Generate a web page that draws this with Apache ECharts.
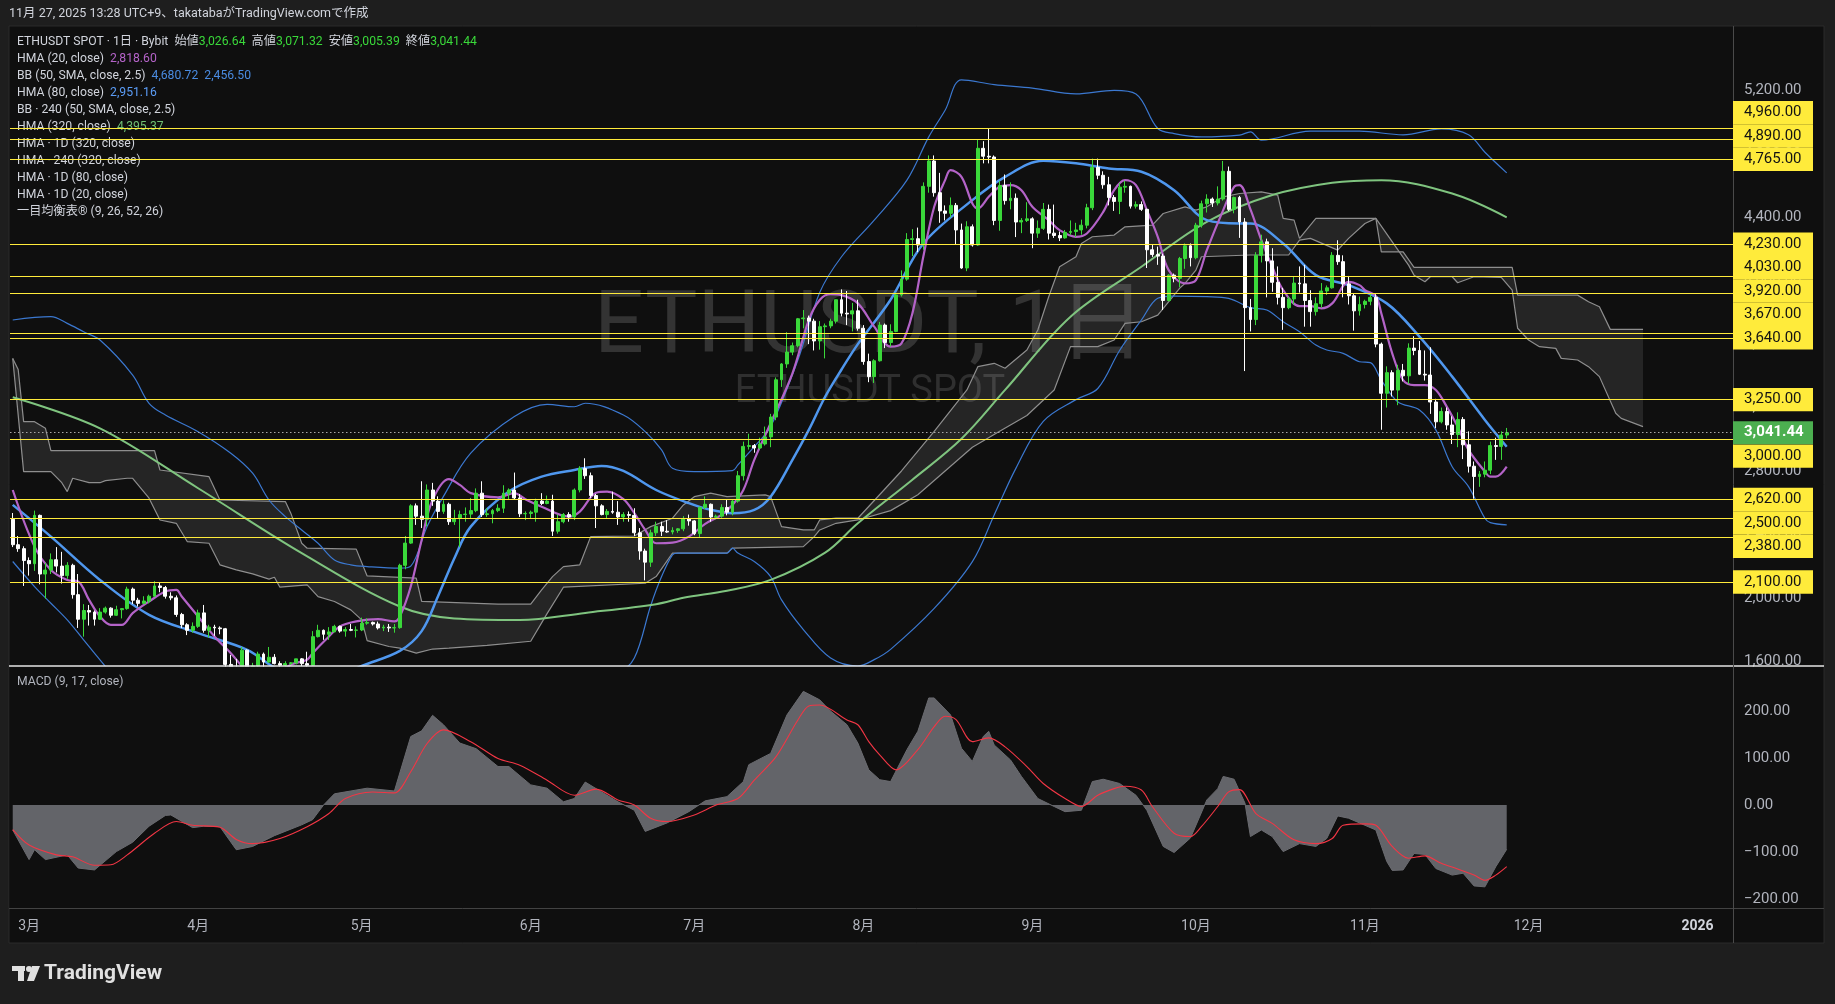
<!DOCTYPE html>
<html><head><meta charset="utf-8">
<script src="https://cdn.jsdelivr.net/npm/echarts@6/dist/echarts.min.js"></script>
<style>html,body{margin:0;padding:0;background:#1e1e1e;overflow:hidden}#c{width:1835px;height:1004px}</style>
</head><body><div id="c"></div>
<script>
// ---------- DATA ----------
// daily candles [open, high, low, close], Feb 26 2025 .. Nov 27 2025
const candlesFeb = [[2495,2535,2320,2335],[2335,2390,2290,2310],[2310,2325,2075,2235]];
const candlesMar = [[2235,2255,2140,2215],[2215,2550,2170,2520],[2520,2525,2085,2150],[2150,2220,1995,2175],[2175,2280,2150,2240],[2240,2320,2160,2200],[2200,2290,2090,2140],[2140,2225,2120,2205],[2205,2215,1995,2020],[2020,2150,1810,1865],[1865,1960,1755,1920],[1920,1955,1825,1910],[1910,1920,1825,1865],[1865,1935,1860,1910],[1910,1945,1900,1935],[1935,1940,1875,1890],[1890,1950,1885,1925],[1925,1935,1870,1932],[1932,2070,1925,2055],[2055,2065,1960,1985],[1985,2000,1945,1965],[1965,2010,1960,1980],[1980,2020,1965,2010],[2010,2105,2005,2075],[2075,2095,2035,2065],[2065,2075,1995,2010],[2010,2035,1985,2000],[2000,2015,1880,1895],[1895,1905,1810,1830],[1830,1840,1765,1795],[1795,1845,1780,1820]];
const candlesApr = [[1820,1925,1810,1905],[1905,1955,1780,1795],[1795,1830,1750,1815],[1815,1830,1760,1810],[1810,1820,1770,1805],[1805,1810,1545,1580],[1580,1640,1410,1555],[1555,1615,1440,1470],[1470,1690,1385,1670],[1670,1675,1470,1520],[1520,1590,1505,1570],[1570,1660,1550,1645],[1645,1655,1560,1595],[1595,1690,1590,1625],[1625,1645,1580,1585],[1585,1600,1555,1575],[1575,1600,1565,1585],[1585,1595,1575,1590],[1590,1615,1580,1615],[1615,1620,1570,1585],[1585,1660,1560,1575],[1575,1790,1570,1755],[1755,1830,1750,1795],[1795,1800,1735,1770],[1770,1815,1735,1785],[1785,1830,1785,1820],[1820,1825,1780,1790],[1790,1815,1755,1800],[1800,1835,1790,1795],[1795,1820,1750,1797]];
const candlesMay = [[1797,1875,1790,1840],[1840,1870,1830,1845],[1845,1850,1825,1835],[1835,1850,1800,1810],[1810,1830,1790,1815],[1815,1835,1785,1810],[1810,1835,1780,1812],[1812,2215,1805,2205],[2205,2390,2180,2345],[2345,2590,2340,2580],[2580,2595,2460,2515],[2515,2735,2440,2495],[2495,2715,2450,2680],[2680,2725,2580,2610],[2610,2640,2500,2545],[2545,2615,2530,2590],[2590,2600,2460,2480],[2480,2555,2460,2500],[2500,2550,2320,2525],[2525,2570,2480,2528],[2528,2630,2500,2550],[2550,2690,2540,2660],[2660,2735,2510,2525],[2525,2565,2510,2530],[2530,2560,2470,2550],[2550,2590,2540,2565],[2565,2710,2535,2660],[2660,2690,2620,2680],[2680,2790,2620,2630],[2630,2655,2510,2530],[2530,2545,2490,2532]];
const candlesJun = [[2532,2550,2500,2540],[2540,2625,2480,2610],[2610,2660,2585,2595],[2595,2645,2590,2610],[2610,2650,2390,2420],[2420,2525,2405,2480],[2480,2535,2470,2525],[2525,2540,2480,2510],[2510,2690,2490,2680],[2680,2830,2665,2815],[2815,2880,2750,2770],[2770,2790,2630,2645],[2645,2655,2440,2580],[2580,2590,2520,2525],[2525,2560,2500,2545],[2545,2670,2530,2540],[2540,2610,2460,2510],[2510,2540,2480,2525],[2525,2545,2480,2520],[2520,2565,2390,2410],[2410,2440,2240,2295],[2295,2310,2110,2225],[2225,2430,2195,2410],[2410,2480,2390,2450],[2450,2480,2390,2420],[2420,2490,2410,2415],[2415,2445,2400,2425],[2425,2440,2410,2435],[2435,2515,2420,2500],[2500,2525,2455,2485]];
const candlesJul = [[2485,2490,2395,2405],[2405,2575,2380,2570],[2570,2640,2560,2590],[2590,2595,2480,2510],[2510,2525,2495,2515],[2515,2590,2505,2570],[2570,2620,2520,2540],[2540,2620,2520,2610],[2610,2800,2600,2770],[2770,2985,2740,2955],[2955,3035,2935,2960],[2960,2970,2915,2945],[2945,3010,2935,2970],[2970,3080,2960,3015],[3015,3160,2950,3140],[3140,3390,3120,3375],[3375,3480,3330,3475],[3475,3675,3450,3550],[3550,3610,3530,3590],[3590,3765,3580,3760],[3760,3815,3700,3765],[3765,3780,3600,3745],[3745,3760,3560,3620],[3620,3745,3565,3710],[3710,3730,3510,3715],[3715,3760,3700,3745],[3745,3880,3730,3880],[3880,3945,3775,3795],[3795,3935,3720,3790],[3790,3860,3680,3810],[3810,3880,3685,3700]];
const candlesAug = [[3700,3720,3470,3490],[3490,3540,3360,3395],[3395,3505,3355,3495],[3495,3740,3490,3720],[3720,3730,3575,3610],[3610,3725,3585,3680],[3680,3925,3675,3910],[3910,4065,3900,4010],[4010,4300,4000,4260],[4260,4325,4155,4265],[4265,4335,4180,4225],[4225,4620,4195,4595],[4595,4790,4555,4755],[4755,4790,4530,4555],[4555,4680,4365,4440],[4440,4475,4380,4425],[4425,4525,4400,4475],[4475,4490,4225,4320],[4320,4360,4075,4080],[4080,4375,4060,4340],[4340,4355,4215,4225],[4225,4890,4220,4835],[4835,4880,4740,4785],[4785,4960,4740,4780],[4780,4790,4350,4380],[4380,4630,4315,4600],[4600,4670,4480,4505],[4505,4620,4450,4520],[4520,4550,4275,4370],[4370,4395,4300,4380],[4380,4495,4370,4390]];
const candlesSep = [[4390,4400,4205,4300],[4300,4380,4270,4330],[4330,4490,4320,4450],[4450,4480,4260,4300],[4300,4480,4270,4285],[4285,4310,4250,4270],[4270,4320,4265,4305],[4305,4380,4290,4310],[4310,4365,4275,4320],[4320,4385,4290,4350],[4350,4485,4330,4460],[4460,4770,4445,4715],[4715,4770,4640,4665],[4665,4690,4580,4605],[4605,4655,4475,4525],[4525,4540,4440,4500],[4500,4615,4420,4590],[4590,4630,4555,4595],[4595,4600,4455,4470],[4470,4500,4455,4480],[4480,4500,4440,4450],[4450,4455,4080,4195],[4195,4225,4150,4165],[4165,4215,4100,4155],[4155,4170,3815,3875],[3875,4040,3870,4035],[4035,4045,3990,4015],[4015,4150,3960,4140],[4140,4235,4075,4220],[4220,4235,4090,4145]];
const candlesOct = [[4145,4365,4135,4350],[4350,4505,4335,4485],[4485,4545,4430,4515],[4515,4525,4465,4490],[4490,4595,4475,4515],[4515,4755,4505,4690],[4690,4720,4440,4450],[4450,4530,4425,4525],[4525,4535,4270,4370],[4370,4395,3430,3830],[3830,3885,3680,3755],[3755,4180,3720,4160],[4160,4290,4115,4245],[4245,4265,3895,4125],[4125,4205,3930,3990],[3990,4090,3850,3895],[3895,3955,3690,3830],[3830,3900,3820,3885],[3885,4025,3850,3985],[3985,4090,3925,3980],[3980,4100,3710,3875],[3875,3940,3710,3805],[3805,3895,3780,3855],[3855,3985,3830,3935],[3935,3970,3910,3955],[3955,4180,3950,4160],[4160,4255,4100,4120],[4120,4160,3895,3980],[3980,4030,3850,3905],[3905,3920,3685,3810],[3810,3900,3780,3850]];
const candlesNov = [[3850,3880,3825,3870],[3870,3920,3845,3895],[3895,3915,3580,3600],[3600,3610,3060,3290],[3290,3460,3200,3420],[3420,3435,3270,3310],[3310,3470,3215,3435],[3435,3475,3365,3400],[3400,3605,3350,3575],[3575,3650,3530,3560],[3560,3620,3405,3410],[3410,3560,3370,3405],[3405,3580,3160,3235],[3235,3255,3070,3110],[3110,3200,3100,3175],[3175,3200,3060,3090],[3090,3145,2970,3030],[3030,3170,2950,3125],[3125,3140,2875,2965],[2965,3050,2790,2830],[2830,2860,2625,2765],[2765,2800,2700,2780],[2780,2860,2760,2805],[2805,2985,2780,2960],[2960,3010,2870,2955],[2955,3050,2870,3026.64],[3026.64,3071.32,3005.39,3041.44]];

// indicator lines as [day, value]; day 0 = Mar 1 2025
const hma20 = [[-3,2680],[1,2323],[4,2176],[7,2113],[9,2103],[11,1987],[13,1882],[15,1829],[17,1829],[19,1903],[22,1977],[25,2040],[27,2050],[28,2008],[31,1882],[34,1756],[37,1651],[40,1540],[44,1480],[48,1578],[51,1610],[52,1651],[55,1756],[57,1819],[60,1851],[64,1866],[67,1851],[68,1882],[70,2071],[72,2365],[74,2617],[77,2748],[79,2712],[81,2660],[86,2634],[89,2660],[91,2622],[94,2575],[99,2512],[101,2544],[104,2663],[106,2670],[109,2622],[111,2534],[113,2428],[115,2344],[118,2348],[121,2386],[124,2466],[127,2523],[129,2586],[131,2680],[133,2870],[136,3101],[140,3416],[143,3752],[145,3878],[147,3915],[149,3909],[152,3857],[155,3710],[158,3584],[160,3605],[162,3794],[164,4151],[166,4466],[168,4634],[169,4697],[171,4655],[173,4487],[174,4456],[176,4529],[178,4592],[180,4603],[182,4571],[184,4466],[187,4382],[189,4319],[192,4277],[194,4298],[197,4434],[199,4571],[201,4634],[203,4603],[205,4445],[207,4277],[209,4067],[212,3983],[214,4004],[216,4193],[219,4445],[221,4592],[222,4603],[224,4450],[226,4256],[228,4088],[230,3941],[233,3840],[235,3840],[237,3826],[239,3857],[242,3993],[244,3972],[245,3941],[247,3903],[248,3794],[250,3542],[252,3373],[254,3342],[256,3342],[258,3311],[260,3206],[262,3080],[264,2933],[267,2796],[268,2764],[269,2764],[271,2827]];
const hma80 = [[-3,2586],[4,2386],[13,2113],[22,1893],[31,1777],[40,1672],[45,1560],[50,1490],[55,1480],[61,1570],[68,1665],[72,1790],[75,2010],[78,2250],[81,2449],[88,2670],[94,2764],[100,2806],[105,2832],[109,2800],[115,2680],[121,2597],[125,2555],[129,2534],[133,2555],[136,2638],[140,2870],[143,3059],[146,3268],[149,3440],[152,3600],[158,3880],[164,4235],[173,4508],[179,4655],[186,4756],[192,4740],[198,4708],[204,4687],[210,4571],[216,4382],[222,4361],[224,4361],[230,4235],[236,4035],[242,3972],[249,3857],[255,3647],[261,3395],[267,3122],[271,2953]];
const bbUpper = [[-3,3752],[4,3773],[7,3731],[10,3678],[13,3626],[19,3405],[22,3227],[25,3153],[31,3048],[37,2912],[41,2786],[44,2617],[47,2512],[50,2428],[53,2344],[56,2239],[59,2208],[62,2197],[68,2187],[70,2200],[73,2450],[76,2640],[81,2912],[89,3143],[95,3220],[100,3205],[102,3227],[109,3153],[113,3048],[116,2933],[118,2817],[122,2796],[129,2802],[130,2838],[133,2953],[136,3080],[141,3500],[145,3925],[149,4151],[155,4382],[161,4634],[165,4907],[168,5075],[171,5267],[177,5237],[184,5215],[192,5178],[199,5200],[203,5178],[207,4960],[210,4928],[215,4907],[222,4918],[224,4939],[226,4886],[235,4943],[244,4943],[252,4920],[259,4957],[264,4920],[267,4810],[271,4680]];
const bbLower = [[-3,2229],[1,2071],[4,1966],[7,1861],[10,1735],[13,1609],[16,1500],[25,1350],[40,1250],[55,1300],[70,1350],[85,1420],[100,1480],[108,1530],[111,1620],[114,1950],[116,2134],[118,2271],[119,2282],[128,2282],[129,2313],[130,2282],[133,2229],[136,2134],[138,1987],[142,1800],[147,1620],[152,1570],[155,1610],[158,1675],[166,1933],[173,2228],[177,2523],[181,2818],[186,3113],[192,3250],[196,3320],[200,3560],[204,3752],[207,3889],[210,3903],[216,3899],[220,3889],[224,3830],[227,3815],[230,3741],[233,3678],[236,3594],[238,3563],[241,3542],[244,3489],[246,3483],[248,3373],[251,3237],[255,3185],[258,3059],[261,2827],[264,2701],[267,2502],[268,2474],[271,2460]];
const hma320 = [[-3,3265],[13,3069],[31,2691],[50,2282],[68,1945],[78,1870],[90,1860],[102,1905],[115,1960],[120,2000],[128,2045],[136,2113],[146,2285],[152,2470],[162,2745],[171,3003],[179,3311],[191,3773],[204,4088],[216,4371],[228,4540],[239,4618],[248,4634],[261,4550],[271,4400]];
const cloudA = [[-3,3510],[-2,3440],[-1,3111],[1,3111],[3,3069],[4,2928],[23,2928],[24,2806],[33,2764],[35,2617],[47,2607],[48,2534],[50,2344],[51,2313],[60,2307],[62,2138],[71,2124],[72,1977],[86,1960],[92,1960],[94,2050],[96,2134],[98,2197],[101,2208],[103,2386],[111,2390],[114,2449],[118,2502],[120,2586],[122,2638],[125,2660],[128,2638],[135,2649],[136,2638],[138,2449],[142,2428],[144,2428],[145,2491],[148,2502],[152,2502],[160,2800],[166,3050],[172,3311],[174,3458],[177,3479],[179,3448],[183,3563],[185,3689],[187,3899],[189,4088],[192,4151],[193,4235],[195,4277],[199,4288],[201,4340],[206,4351],[208,4424],[212,4466],[214,4445],[216,4466],[219,4529],[222,4550],[226,4560],[229,4540],[230,4393],[232,4382],[233,4267],[236,4393],[247,4393],[248,4182],[252,4182],[254,4084],[272,4084],[273,3909],[284,3909],[286,3867],[288,3836],[290,3693],[296,3693]];
const cloudB = [[-3,3510],[-1,2796],[4,2796],[6,2726],[7,2670],[8,2754],[11,2726],[13,2726],[14,2739],[18,2754],[19,2754],[22,2628],[24,2491],[27,2470],[29,2355],[33,2344],[35,2208],[38,2176],[41,2151],[44,2118],[45,2130],[46,2067],[51,2082],[53,2008],[56,1977],[59,1924],[61,1861],[62,1730],[66,1693],[68,1683],[71,1651],[74,1677],[77,1683],[84,1700],[92,1726],[95,1900],[98,2067],[113,2092],[115,2134],[118,2282],[128,2282],[129,2313],[142,2323],[144,2386],[145,2428],[148,2470],[152,2491],[158,2550],[163,2650],[168,2800],[173,2950],[178,3050],[183,3150],[188,3311],[191,3584],[196,3584],[199,3626],[201,3731],[204,3741],[207,3783],[211,3952],[212,3983],[214,4067],[215,4151],[224,4162],[231,4162],[233,4256],[235,4267],[240,4193],[242,4267],[245,4361],[247,4393],[253,4098],[254,4035],[256,3993],[257,4025],[261,4025],[262,3987],[265,4025],[270,4021],[272,3941],[273,3700],[275,3626],[277,3584],[280,3573],[281,3510],[284,3500],[286,3458],[288,3395],[291,3164],[292,3132],[296,3080]];
const macdLine = [[-3,-53],[0,-116],[1,-95],[3,-116],[7,-106],[9,-134],[12,-138],[16,-99],[19,-79],[22,-45],[25,-22],[26,-21],[30,-48],[32,-45],[35,-46],[38,-95],[41,-88],[45,-65],[50,-42],[52,-31],[54,0],[56,24],[62,36],[67,30],[70,146],[72,158],[74,191],[76,171],[79,132],[82,120],[86,82],[88,82],[92,43],[95,36],[98,7],[100,14],[102,49],[104,35],[108,7],[111,-11],[113,-56],[117,-38],[121,-14],[124,9],[128,18],[131,50],[132,86],[136,110],[139,192],[142,242],[145,224],[147,200],[150,171],[152,132],[154,75],[156,54],[158,50],[161,118],[163,157],[165,228],[166,228],[169,192],[171,121],[173,93],[175,146],[176,157],[177,128],[180,96],[182,61],[185,14],[188,-3],[190,-14],[193,-11],[195,50],[197,55],[200,46],[203,21],[205,-11],[208,-88],[210,-101],[213,-70],[216,11],[218,35],[219,61],[221,55],[223,4],[224,-67],[226,-53],[228,-67],[230,-99],[233,-82],[236,-88],[238,-71],[240,-23],[242,-28],[245,-43],[247,-53],[249,-120],[250,-139],[252,-138],[254,-103],[256,-105],[258,-135],[261,-149],[263,-145],[265,-172],[267,-174],[269,-131],[271,-94]];
const macdSignal = [[-3,-52],[0,-85],[5,-106],[8,-110],[12,-128],[15,-127],[18,-106],[23,-60],[27,-35],[30,-43],[35,-47],[38,-73],[41,-82],[46,-71],[51,-46],[55,-18],[58,14],[63,28],[67,26],[70,71],[73,131],[76,160],[81,135],[86,99],[90,85],[95,53],[100,21],[104,34],[108,11],[111,0],[114,-28],[117,-35],[122,-21],[126,0],[130,14],[133,53],[137,103],[141,181],[143,211],[145,213],[150,181],[152,171],[154,135],[156,107],[159,75],[163,118],[166,167],[168,189],[170,182],[173,135],[176,143],[179,124],[183,82],[186,46],[190,14],[193,-3],[196,21],[199,35],[201,40],[204,32],[206,-3],[210,-60],[213,-67],[215,-46],[218,-3],[220,28],[222,33],[225,-18],[228,-39],[232,-74],[236,-82],[239,-71],[241,-43],[245,-40],[247,-43],[250,-88],[253,-113],[256,-108],[259,-124],[262,-136],[265,-149],[267,-160],[269,-149],[271,-131]];

const priceTicks = [1600,2000,2400,2800,3200,3600,4000,4400,4800,5200];
const macdTicks = [-200,-100,0,100,200];
const levels = [4960,4890,4765,4230,4030,3920,3670,3640,3250,3000,2620,2500,2380,2100];
const lastPrice = 3041.44;
const headerText = '11月 27, 2025 13:28 UTC+9、takatabaがTradingView.comで作成';
const legendRows = [
  'ETHUSDT SPOT · 1日 · Bybit  始値{g|3,026.64}  高値{g|3,071.32}  安値{g|3,005.39}  終値{g|3,041.44}',
  'HMA (20, close)  {p|2,818.60}',
  'BB (50, SMA, close, 2.5)  {b|4,680.72}  {b|2,456.50}',
  'HMA (80, close)  {b2|2,951.16}',
  'BB · 240 (50, SMA, close, 2.5)',
  'HMA (320, close)  {gr|4,395.37}',
  'HMA · 1D (320, close)',
  'HMA · 240 (320, close)',
  'HMA · 1D (80, close)',
  'HMA · 1D (20, close)',
  '一目均衡表® (9, 26, 52, 26)'
];

// ---------- BUILD ----------
const FONT = 'Roboto, "Noto Sans CJK JP", sans-serif';
const START = Date.UTC(2025, 1, 26);
const N_DAYS = 316;
const cats = Array.from({length: N_DAYS}, (_, i) => new Date(START + i * 86400000).toISOString().slice(0, 10));
const OFF = 3; // index of Mar 1
const allCandles = [].concat(candlesFeb, candlesMar, candlesApr, candlesMay, candlesJun, candlesJul, candlesAug, candlesSep, candlesOct, candlesNov);
const kData = allCandles.map(([o, h, l, c]) => [o, c, l, h]);
const pts = a => a.map(([d, v]) => [d + OFF, v]);
const fmt = v => v.toLocaleString('en-US', {minimumFractionDigits: 2, maximumFractionDigits: 2});

const GL = 10, GR = 102, AXIS_X = 1835 - GR;
const UP = '#3ad83a';

const chart = echarts.init(document.getElementById('c'), null, {renderer: 'canvas'});
const lineS = (data, color, width, z) => ({
  type: 'line', xAxisIndex: 0, yAxisIndex: 0, data: pts(data), symbol: 'none', smooth: 0.35,
  lineStyle: {color, width}, silent: true, z: z || 3
});

chart.setOption({
  animation: false,
  backgroundColor: '#1e1e1e',
  grid: [
    {left: GL, right: GR, top: 27, height: 639},
    {left: GL, right: GR, top: 666, height: 242}
  ],
  xAxis: [
    {type: 'category', gridIndex: 0, data: cats, boundaryGap: true, axisLine: {show: false}, axisTick: {show: false}, axisLabel: {show: false}, splitLine: {show: false}},
    {type: 'category', gridIndex: 1, data: cats, boundaryGap: true, axisLine: {show: false}, axisTick: {show: false}, splitLine: {show: false},
      axisLabel: {show: true, interval: (i, v) => v.slice(8) === '01', color: '#b2b5be', fontSize: 14, fontFamily: FONT, margin: 11,
        formatter: v => { const m = +v.slice(5, 7); return m === 1 ? '{b|' + v.slice(0, 4) + '}' : m + '月'; },
        rich: {b: {fontWeight: 'bold', color: '#d1d4dc', fontSize: 14, fontFamily: FONT}}}}
  ],
  yAxis: [
    {type: 'value', gridIndex: 0, position: 'right', min: 1570, max: 5600, splitLine: {show: false}, axisLine: {show: false}, axisTick: {show: false},
      axisLabel: {customValues: priceTicks, color: '#b2b5be', fontSize: 15, fontFamily: FONT, margin: 11, formatter: v => fmt(v)}},
    {type: 'value', gridIndex: 1, position: 'right', min: -219, max: 296, splitLine: {show: false}, axisLine: {show: false}, axisTick: {show: false},
      axisLabel: {customValues: macdTicks, color: '#b2b5be', fontSize: 15, fontFamily: FONT, margin: 11, formatter: v => (v < 0 ? '−' : '') + Math.abs(v).toFixed(2)}}
  ],
  series: [
    {type: 'custom', xAxisIndex: 0, yAxisIndex: 0, silent: true, z: 1, data: [[0, 3000]],
      renderItem: (params, api) => {
        if (params.dataIndex !== 0) return null;
        const a = cloudA.map(([d, v]) => api.coord([d + OFF, v]));
        const b = cloudB.map(([d, v]) => api.coord([d + OFF, v])).reverse();
        return {type: 'polygon', shape: {points: a.concat(b)}, style: {fill: 'rgba(255,255,255,0.095)'}};
      }},
    {type: 'line', xAxisIndex: 0, yAxisIndex: 0, data: pts(cloudA), symbol: 'none', lineStyle: {color: '#8e8e8e', width: 1.2}, silent: true, z: 2},
    {type: 'line', xAxisIndex: 0, yAxisIndex: 0, data: pts(cloudB), symbol: 'none', lineStyle: {color: '#8e8e8e', width: 1.2}, silent: true, z: 2},
    lineS(bbUpper, '#3b78d0', 1.2),
    lineS(bbLower, '#3b78d0', 1.2),
    lineS(hma320, '#7fc47f', 2),
    lineS(hma80, '#4f97ee', 2.5),
    lineS(hma20, '#b463c8', 2.2),
    {type: 'candlestick', xAxisIndex: 0, yAxisIndex: 0, data: kData, barWidth: 3.4, silent: true, z: 4, clip: true,
      itemStyle: {color: UP, color0: '#ffffff', borderColor: UP, borderColor0: '#ffffff', borderWidth: 1},
      markLine: {silent: true, symbol: ['none', 'none'], label: {show: false}, animation: false,
        data: levels.map(p => ({yAxis: p, lineStyle: {color: '#ffeb3b', width: 1.2, type: 'solid'}}))
          .concat([{yAxis: lastPrice, lineStyle: {color: '#a8a8a8', width: 1, type: [1.5, 2.5]}}])}},
    {type: 'line', xAxisIndex: 1, yAxisIndex: 1, data: pts(macdLine), symbol: 'none', silent: true, z: 7,
      lineStyle: {color: '#6a6b70', width: 1}, areaStyle: {color: '#636469', opacity: 1},
      markLine: {silent: true, symbol: ['none', 'none'], label: {show: false}, animation: false,
        data: [{yAxis: 0, lineStyle: {color: '#ffffff', width: 1.5, type: 'solid'}}]}},
    {type: 'line', xAxisIndex: 1, yAxisIndex: 1, data: pts(macdSignal), symbol: 'none', smooth: 0.3, silent: true, z: 8,
      lineStyle: {color: '#f23645', width: 1.1}}
  ]
});

// ---------- frame, texts, price labels ----------
const H = 23.4;
const yOf = p => chart.convertToPixel({yAxisIndex: 0}, p);
const lastY = yOf(lastPrice);
const placed = [];
let prev = lastY;
levels.filter(p => p > lastPrice).sort((a, b) => a - b).forEach(p => { const y = Math.min(yOf(p), prev - H); placed.push([p, y]); prev = y; });
prev = lastY;
levels.filter(p => p < lastPrice).sort((a, b) => b - a).forEach(p => { const y = Math.max(yOf(p), prev + H); placed.push([p, y]); prev = y; });

const els = [];
els.push({type: 'rect', z: -100, silent: true, shape: {x: 9, y: 26, width: 1815, height: 917}, style: {fill: '#0f0f0f', stroke: '#2a2a2a', lineWidth: 1}});
// cover for the indicator pane so price marks do not spill under the price pane
els.push({type: 'rect', z: 5, silent: true, shape: {x: 9.5, y: 666.5, width: AXIS_X - 9.5, height: 242}, style: {fill: '#0f0f0f'}});
// watermark
els.push({type: 'text', z: 0, silent: true, x: 870, y: 330, style: {text: 'ETHUSDT, 1日', fill: '#333333', font: '88px ' + FONT, align: 'center', verticalAlign: 'middle'}});
els.push({type: 'text', z: 0, silent: true, x: 870, y: 392, style: {text: 'ETHUSDT SPOT', fill: '#2f2f2f', font: '38px ' + FONT, align: 'center', verticalAlign: 'middle'}});
// header
els.push({type: 'text', z: 10, silent: true, x: 9, y: 14, style: {text: headerText, fill: '#d1d4dc', font: '12.5px ' + FONT, verticalAlign: 'middle'}});
// legend
const LF = '12.2px ' + FONT;
legendRows.forEach((t, i) => {
  els.push({type: 'text', z: 1, silent: true, x: 17, y: 41.5 + i * 17, style: {text: t, fill: '#d1d4dc', font: LF, verticalAlign: 'middle',
    rich: {g: {fill: UP, font: LF}, p: {fill: '#b463c8', font: LF}, b: {fill: '#4a8be0', font: LF},
      b2: {fill: '#5b9cf6', font: LF}, gr: {fill: '#6fbf73', font: LF}}}});
});
els.push({type: 'text', z: 10, silent: true, x: 17, y: 682, style: {text: 'MACD (9, 17, close)', fill: '#b2b5be', font: LF, verticalAlign: 'middle'}});
// separators
els.push({type: 'line', z: 50, silent: true, shape: {x1: 9, y1: 666, x2: 1824, y2: 666}, style: {stroke: '#e6e6e6', lineWidth: 1.5}});
els.push({type: 'line', z: 50, silent: true, shape: {x1: 9, y1: 908.5, x2: 1824, y2: 908.5}, style: {stroke: '#434343', lineWidth: 1}});
els.push({type: 'line', z: 50, silent: true, shape: {x1: AXIS_X + 0.5, y1: 26, x2: AXIS_X + 0.5, y2: 943}, style: {stroke: '#4a4a4a', lineWidth: 1}});
// yellow level labels
placed.forEach(([p, y]) => {
  els.push({type: 'rect', z: 100, silent: true, shape: {x: AXIS_X, y: y - H / 2, width: 80, height: H}, style: {fill: '#ffeb3b'}});
  els.push({type: 'text', z: 101, silent: true, x: AXIS_X + 11, y: y, style: {text: fmt(p), fill: '#131313', font: '15px ' + FONT, verticalAlign: 'middle'}});
});
// last price label
els.push({type: 'rect', z: 102, silent: true, shape: {x: AXIS_X, y: lastY - 11.5, width: 80, height: 23}, style: {fill: '#4caf50'}});
els.push({type: 'text', z: 103, silent: true, x: AXIS_X + 11, y: lastY, style: {text: fmt(lastPrice), fill: '#ffffff', font: 'bold 15px ' + FONT, verticalAlign: 'middle'}});
// footer logo
els.push({type: 'rect', z: 10, silent: true, shape: {x: 12, y: 966, width: 13, height: 5}, style: {fill: '#e0e0e0'}});
els.push({type: 'rect', z: 10, silent: true, shape: {x: 18, y: 966, width: 6, height: 15}, style: {fill: '#e0e0e0'}});
els.push({type: 'circle', z: 10, silent: true, shape: {cx: 29, cy: 969, r: 3}, style: {fill: '#e0e0e0'}});
els.push({type: 'polygon', z: 10, silent: true, shape: {points: [[32, 966], [40, 966], [34, 981], [27, 981]]}, style: {fill: '#e0e0e0'}});
els.push({type: 'text', z: 10, silent: true, x: 44, y: 974, style: {text: 'TradingView', fill: '#e0e0e0', font: 'bold 21px ' + FONT, verticalAlign: 'middle'}});

chart.setOption({graphic: {elements: els}});
</script></body></html>
